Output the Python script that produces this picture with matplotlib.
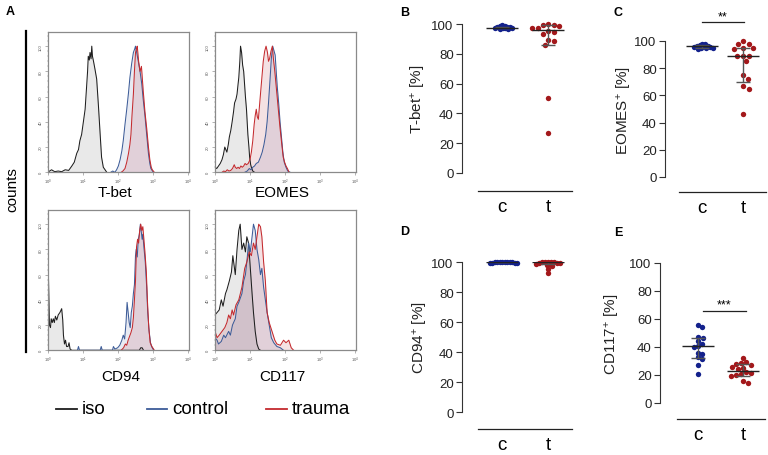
import numpy as np
import matplotlib
matplotlib.use("Agg")
import matplotlib.pyplot as plt
from matplotlib.lines import Line2D
from matplotlib.ticker import LogLocator, MultipleLocator, NullFormatter

plt.rcParams["font.family"] = ["Liberation Sans", "DejaVu Sans"]
plt.rcParams["mathtext.fontset"] = "custom"
plt.rcParams["mathtext.rm"] = "Liberation Sans"
plt.rcParams["mathtext.it"] = "Liberation Sans:italic"

# ---- flow histograms: (log10 intensity, % of max) ----
TBET_ISO = [(0.00, 0), (0.11, 2), (0.20, 0.5), (0.30, 1), (0.40, 0.5), (0.50, 2),
            (0.60, 1.5), (0.69, 5), (0.76, 8), (0.83, 15), (0.88, 18), (0.92, 25),
            (0.97, 30), (1.02, 40), (1.07, 50), (1.11, 67), (1.14, 80), (1.16, 92),
            (1.19, 89), (1.21, 95), (1.24, 90), (1.26, 100), (1.28, 92), (1.31, 88),
            (1.35, 82), (1.40, 74), (1.45, 53), (1.50, 30), (1.54, 12), (1.59, 4),
            (1.64, 2), (1.69, 0)]
TBET_CTRL = [(1.80, 0), (1.86, 1), (1.92, 0), (1.97, 2), (2.02, 5), (2.07, 10),
             (2.12, 17), (2.16, 25), (2.21, 38), (2.26, 50), (2.31, 63), (2.35, 75),
             (2.40, 86), (2.45, 95), (2.49, 98), (2.51, 100), (2.55, 94), (2.59, 88),
             (2.64, 80), (2.69, 70), (2.73, 58), (2.78, 45), (2.83, 30), (2.88, 15),
             (2.92, 7), (2.95, 3), (3.02, 0)]
TBET_TRAU = [(2.10, 0), (2.15, 1), (2.21, 3), (2.26, 8), (2.31, 15), (2.35, 22),
             (2.38, 30), (2.41, 45), (2.45, 62), (2.48, 80), (2.51, 95), (2.54, 98),
             (2.56, 100), (2.60, 88), (2.64, 80), (2.68, 84), (2.73, 65), (2.78, 48),
             (2.83, 35), (2.88, 20), (2.92, 10), (2.96, 4), (2.99, 2), (3.05, 0)]

EOMES_ISO = [(0.00, 4), (0.05, 3), (0.10, 5), (0.15, 7), (0.20, 10), (0.24, 14),
             (0.28, 20), (0.31, 18), (0.34, 16), (0.38, 22), (0.41, 28), (0.45, 33),
             (0.49, 40), (0.53, 48), (0.56, 55), (0.60, 58), (0.63, 62), (0.66, 70),
             (0.68, 75), (0.71, 88), (0.73, 100), (0.76, 95), (0.79, 85), (0.82, 80),
             (0.84, 72), (0.87, 60), (0.90, 50), (0.92, 40), (0.94, 30), (0.97, 20),
             (0.99, 12), (1.02, 6), (1.04, 4), (1.08, 1), (1.13, 0)]
EOMES_CTRL = [(0.85, 0), (0.92, 1), (0.98, 3), (1.03, 2), (1.08, 4), (1.13, 5),
              (1.18, 7), (1.24, 8), (1.30, 12), (1.35, 16), (1.40, 22), (1.45, 30),
              (1.49, 40), (1.53, 55), (1.57, 72), (1.61, 90), (1.65, 100), (1.68, 97),
              (1.72, 93), (1.75, 80), (1.78, 68), (1.82, 55), (1.86, 40), (1.90, 28),
              (1.94, 16), (1.98, 8), (2.03, 4), (2.08, 1), (2.15, 0)]
EOMES_TRAU = [(0.20, 0), (0.25, 1), (0.30, 0.5), (0.35, 2), (0.40, 1), (0.45, 1.5),
              (0.50, 3), (0.55, 6), (0.58, 4), (0.62, 3), (0.66, 4), (0.70, 3),
              (0.74, 5), (0.78, 4), (0.82, 5), (0.86, 7), (0.90, 6), (0.95, 7),
              (1.00, 10), (1.04, 16), (1.08, 25), (1.12, 38), (1.15, 45), (1.18, 50),
              (1.21, 44), (1.24, 42), (1.27, 52), (1.30, 62), (1.34, 75), (1.38, 88),
              (1.42, 96), (1.46, 100), (1.50, 95), (1.53, 88), (1.56, 90), (1.60, 96),
              (1.64, 100), (1.67, 90), (1.71, 80), (1.76, 65), (1.81, 50), (1.86, 35),
              (1.91, 22), (1.95, 12), (1.99, 8), (2.03, 5), (2.07, 3), (2.12, 0)]

CD94_ISO = [(0.00, 0), (0.005, 100), (0.02, 60), (0.05, 20), (0.08, 18), (0.10, 25),
            (0.13, 22), (0.16, 25), (0.19, 22), (0.22, 27), (0.26, 24), (0.30, 28),
            (0.35, 30), (0.40, 33), (0.43, 24), (0.45, 12), (0.48, 5), (0.51, 8),
            (0.54, 3), (0.58, 3), (0.61, 6), (0.64, 1), (0.69, 0), (2.62, 0),
            (2.66, 2), (2.70, 2), (2.74, 0)]
CD94_CTRL = [(0.85, 0), (0.88, 3), (0.91, 0), (1.50, 0), (1.53, 3), (1.56, 0),
             (1.85, 0), (1.88, 3), (1.92, 1), (2.00, 2), (2.06, 4), (2.12, 8),
             (2.16, 12), (2.20, 9), (2.24, 22), (2.27, 38), (2.30, 30), (2.33, 22),
             (2.36, 18), (2.39, 30), (2.42, 35), (2.45, 45), (2.48, 52), (2.51, 75),
             (2.53, 80), (2.56, 74), (2.59, 88), (2.62, 92), (2.65, 100), (2.68, 93),
             (2.70, 88), (2.72, 92), (2.75, 82), (2.79, 70), (2.83, 50), (2.86, 30),
             (2.90, 15), (2.94, 6), (2.97, 3), (3.03, 0)]
CD94_TRAU = [(2.10, 0), (2.17, 2), (2.22, 5), (2.26, 4), (2.30, 8), (2.34, 11),
             (2.38, 14), (2.42, 18), (2.45, 26), (2.48, 40), (2.51, 55), (2.54, 82),
             (2.57, 88), (2.60, 85), (2.63, 95), (2.66, 100), (2.69, 95), (2.72, 98),
             (2.75, 88), (2.78, 78), (2.82, 62), (2.85, 40), (2.89, 18), (2.93, 6),
             (2.98, 3), (3.05, 0)]

CD117_ISO = [(0.00, 28), (0.06, 30), (0.12, 32), (0.18, 40), (0.23, 35), (0.30, 45),
             (0.34, 48), (0.41, 55), (0.47, 62), (0.51, 75), (0.58, 60), (0.63, 80),
             (0.68, 95), (0.72, 100), (0.77, 80), (0.82, 85), (0.87, 78), (0.91, 90),
             (0.96, 85), (1.01, 65), (1.06, 45), (1.10, 30), (1.15, 15), (1.20, 5),
             (1.25, 1), (1.30, 0)]
CD117_CTRL = [(0.00, 10), (0.06, 8), (0.10, 5), (0.18, 7), (0.25, 12), (0.30, 10),
              (0.39, 15), (0.44, 12), (0.50, 20), (0.58, 25), (0.63, 35), (0.68, 38),
              (0.77, 45), (0.82, 55), (0.87, 60), (0.91, 70), (0.96, 85), (1.01, 78),
              (1.06, 90), (1.10, 100), (1.15, 95), (1.20, 80), (1.25, 72), (1.30, 60),
              (1.34, 65), (1.39, 50), (1.44, 40), (1.49, 30), (1.55, 20), (1.61, 10),
              (1.68, 6), (1.77, 3), (1.87, 2), (1.96, 0)]
CD117_TRAU = [(0.00, 15), (0.06, 10), (0.12, 12), (0.20, 15), (0.28, 18), (0.34, 22),
              (0.39, 28), (0.44, 25), (0.49, 32), (0.53, 28), (0.60, 36), (0.68, 40),
              (0.77, 50), (0.85, 65), (0.91, 70), (0.98, 78), (1.04, 75), (1.10, 85),
              (1.15, 80), (1.20, 90), (1.25, 100), (1.30, 98), (1.34, 90), (1.39, 70),
              (1.44, 55), (1.49, 30), (1.55, 22), (1.63, 15), (1.71, 8), (1.77, 5),
              (1.87, 4), (1.96, 8), (2.03, 6), (2.11, 8), (2.18, 2), (2.25, 0)]

HIST_LABELS = ["T-bet", "EOMES", "CD94", "CD117"]
LEGEND_LABELS = ["iso", "control", "trauma"]

# ---- per-donor percentages (c = control, t = trauma) ----
TBET_C = [99.2, 98.8, 98.5, 98.0, 97.8, 97.6, 97.5, 97.2, 97.0, 96.8, 96.5, 98.2]
TBET_T = [99.8, 99.5, 99.3, 98.9, 97.6, 97.5, 95.0, 94.8, 93.0, 89.0, 88.5, 86.0, 50.5, 26.8]
EOMES_C = [95.0, 96.0, 97.0, 98.0, 95.5, 94.5, 96.5, 95.0, 97.5, 94.0, 96.0, 95.5]
EOMES_T = [100.0, 98.0, 97.5, 95.0, 94.5, 94.0, 89.0, 89.0, 89.0, 85.0, 75.0, 72.0, 67.0, 65.0, 46.0]
CD94_C = [100, 100, 100, 99.9, 99.8, 99.8, 99.7, 99.6, 99.5, 99.5, 99.2, 100]
CD94_T = [100, 100, 100, 99.8, 99.6, 99.5, 99.3, 99.0, 98.5, 98.2, 97.6, 95.6, 92.7, 99.9]
CD117_C = [55.5, 54.5, 47.0, 46.5, 44.0, 42.5, 41.0, 40.0, 36.0, 35.0, 33.0, 31.5, 27.0, 21.0]
CD117_T = [32.0, 29.0, 28.5, 28.0, 27.0, 26.0, 25.0, 24.0, 22.0, 21.5, 21.0, 20.0, 19.5, 16.0, 14.5]

# median, lower quartile, upper quartile as drawn
TBET_STATS = [(97.6, 97.0, 98.3), (95.8, 86.0, 99.0)]
EOMES_STATS = [(96.0, 95.0, 97.0), (89.0, 70.0, 94.5)]
CD94_STATS = [(100.0, 99.7, 100.0), (99.8, 98.5, 100.0)]
CD117_STATS = [(40.5, 32.0, 46.7), (23.0, 19.5, 28.0)]

GROUPS = ["c", "t"]
YLABELS = ["T-bet$^{+}$ [%]", "EOMES$^{+}$ [%]", "CD94$^{+}$ [%]", "CD117$^{+}$ [%]"]

W, H = 768, 456
BLUE_DOT, RED_DOT = "#13218c", "#a3181b"
ISO_LINE, CTRL_LINE, TRAU_LINE = "#1e1e1e", "#3d5c98", "#c42a2e"

fig = plt.figure(figsize=(W / 100, H / 100), dpi=100)
fig.patch.set_facecolor("white")


def rect(x0, y0, x1, y1):
    """pixel box (y measured from the top) -> figure fraction"""
    return [x0 / W, 1 - y1 / H, (x1 - x0) / W, (y1 - y0) / H]


def ftext(x, y, s, **kw):
    fig.text(x / W, 1 - y / H, s, **kw)


def fline(xs, ys, **kw):
    fig.add_artist(Line2D([x / W for x in xs], [1 - y / H for y in ys],
                          transform=fig.transFigure, **kw))


def hist_panel(x0, y0, curves):
    ax = fig.add_axes(rect(x0, y0, x0 + 141.3, y0 + 140))
    ax.set_xscale("log")
    for pts, lc, fc, fa in curves:
        lx, cnt = zip(*pts)
        x = 10 ** np.array(lx)
        ax.fill_between(x, cnt, color=fc, alpha=fa, lw=0)
        ax.plot(x, cnt, color=lc, lw=0.75)
    ax.set_xlim(1, 10 ** 4.04)
    ax.set_ylim(0, 111)
    ax.set_xticks([1, 10, 100, 1000, 10000])
    ax.set_xticklabels([f"$10^{{{k}}}$" for k in range(5)], fontsize=3, color="#555")
    ax.xaxis.set_minor_locator(LogLocator(base=10, subs=range(2, 10)))
    ax.xaxis.set_minor_formatter(NullFormatter())
    ax.set_yticks(range(0, 101, 20))
    ax.set_yticklabels([str(v) for v in range(0, 101, 20)], fontsize=3,
                       rotation=90, va="center", color="#555")
    ax.yaxis.set_minor_locator(MultipleLocator(4))
    ax.tick_params(which="major", length=2, width=0.4, color="#777", pad=1.5)
    ax.tick_params(which="minor", length=1, width=0.3, color="#777")
    for sp in ax.spines.values():
        sp.set_color("#8a8a8a")
        sp.set_linewidth(0.9)
    return ax


def swarm_x(ax, vals, pos, sxu, d):
    tr = ax.transData
    order = np.argsort(vals)[::-1]
    placed = []
    xs = np.zeros(len(vals))
    cands = [0.0] + [s * j * 0.5 for j in range(1, 200) for s in (1, -1)]
    for i in order:
        ypx = tr.transform((pos, vals[i]))[1]
        for dx in cands:
            if all((dx - px) ** 2 + (ypx - py) ** 2 >= d * d for px, py in placed):
                break
        placed.append((dx, ypx))
        xs[i] = pos + dx / sxu
    return xs


def dot_panel(geom, c_vals, t_vals, stats, ylabel, ylab_x, spacing):
    sx, bx0, bx1, by, y0, y100, cx, tx = geom
    ppu = (y0 - y100) / 100.0
    sxu = float(tx - cx)
    ax = fig.add_axes(rect(bx0, y100, bx1, by))
    ax.set_ylim(-(by - y0) / ppu, 100)
    ax.set_xlim(-(cx - bx0) / sxu, (bx1 - cx) / sxu)
    for sp in ("top", "right"):
        ax.spines[sp].set_visible(False)
    ax.spines["left"].set_position(("outward", (bx0 - sx) * 0.72))
    ax.spines["left"].set_bounds(0, 100)
    ax.spines["left"].set_color("#333")
    ax.spines["left"].set_linewidth(0.8)
    ax.spines["bottom"].set_color("#222")
    ax.spines["bottom"].set_linewidth(0.9)
    ax.set_yticks(range(0, 101, 20))
    ax.tick_params(axis="y", length=4, width=0.8, color="#333", labelsize=9.5,
                   pad=2, labelcolor="#222")
    ax.set_xticks([0, 1])
    ax.set_xticklabels(GROUPS, fontsize=13.5)
    ax.tick_params(axis="x", length=0, pad=5)
    for pos, vals, col in ((0, c_vals, BLUE_DOT), (1, t_vals, RED_DOT)):
        xs = swarm_x(ax, vals, pos, sxu, spacing[pos])
        ax.scatter(xs, vals, s=15, color=col, linewidths=0, zorder=3, clip_on=False)
        med, q1, q3 = stats[pos]
        ax.vlines(pos, q1, q3, color="#555", lw=1.0, zorder=4)
        ax.hlines([q1, q3], pos - 7 / sxu, pos + 7 / sxu, color="#555", lw=1.0, zorder=4)
        ax.hlines(med, pos - 16 / sxu, pos + 16 / sxu, color="#222", lw=1.0, zorder=5)
    ftext(ylab_x, (y0 + y100) / 2, ylabel, rotation=90, ha="center", va="center",
          fontsize=11, color="#222")
    return ax


# ---- panel A: histogram overlays ----
hist_curves = [TBET_ISO, TBET_CTRL, TBET_TRAU, EOMES_ISO, EOMES_CTRL, EOMES_TRAU,
               CD94_ISO, CD94_CTRL, CD94_TRAU, CD117_ISO, CD117_CTRL, CD117_TRAU]
hist_origin = [(47.7, 33.3), (215.0, 33.3), (47.7, 211.3), (215.0, 211.3)]
label_pos = [(115, 193), (282, 193), (121, 377), (282, 377)]
for k, (x0, y0) in enumerate(hist_origin):
    iso, ctrl, trau = hist_curves[3 * k:3 * k + 3]
    hist_panel(x0, y0, [(iso, ISO_LINE, "#9c9c9c", 0.22),
                        (ctrl, CTRL_LINE, "#7282b4", 0.16),
                        (trau, TRAU_LINE, "#c25a68", 0.18)])
    ftext(*label_pos[k], HIST_LABELS[k], ha="center", va="center", fontsize=11)

fline([26, 26], [32, 353], color="black", lw=1.6)
ftext(12, 190, "counts", rotation=90, ha="center", va="center", fontsize=11)

# legend row
for (lx0, lx1), lab, col in zip([(56, 77), (147, 167), (266, 287)], LEGEND_LABELS,
                                [ISO_LINE, CTRL_LINE, TRAU_LINE]):
    fline([lx0, lx1], [410, 410], color=col, lw=1.3)
    ftext(lx1 + 5, 410, lab, ha="left", va="center", fontsize=13.5)

# ---- panels B-E ----
dot_panel((462, 478, 572, 192, 174, 25, 502, 548), TBET_C, TBET_T, TBET_STATS,
          YLABELS[0], 418, (2.4, 5.5))
dot_panel((665, 679, 766, 193, 178, 42, 702, 743), EOMES_C, EOMES_T, EOMES_STATS,
          YLABELS[1], 625, (2.8, 6.0))
dot_panel((462, 478, 572, 430, 413, 263, 502, 548), CD94_C, CD94_T, CD94_STATS,
          YLABELS[2], 420, (2.3, 2.7))
dot_panel((660, 677, 765, 420, 404, 264, 698, 743), CD117_C, CD117_T, CD117_STATS,
          YLABELS[3], 613, (4.2, 5.0))

# significance bars
fline([702, 744], [23, 23], color="#222", lw=0.9)
ftext(723, 17, "**", ha="center", va="center", fontsize=9)
fline([703, 746], [312, 312], color="#222", lw=0.9)
ftext(724.5, 305, "***", ha="center", va="center", fontsize=9)

# panel letters
for s, (x, y) in zip("ABCDE", [(10, 12), (405, 13), (618, 13), (405, 232), (618, 233)]):
    ftext(x, y, s, ha="center", va="center", fontsize=9, fontweight="bold")

fig.savefig("out.png", dpi=100, facecolor="white")
